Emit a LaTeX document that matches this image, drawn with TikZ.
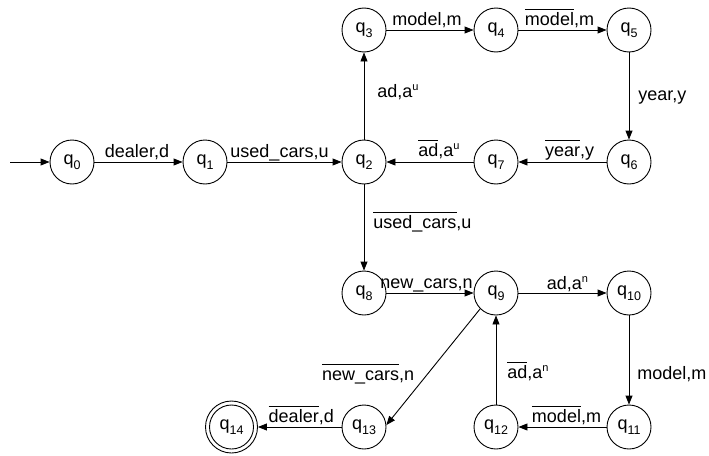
\documentclass[tikz,border=0pt]{standalone}
\usepackage{fontspec}
\setmainfont{Liberation Sans}
\usetikzlibrary{arrows.meta}

% text helpers
\newcommand\lfont{\fontsize{18}{21}\selectfont}
\newcommand\qn[1]{q\raisebox{-5.5pt}{\fontsize{12.5}{12.5}\selectfont #1}}
\newcommand\ssup[1]{\raisebox{7pt}{\fontsize{11}{11}\selectfont #1}}
\newcommand\ovl[1]{\vbox{\hrule height 0.9pt\kern 2.5pt\hbox{\vrule height 13pt depth 0pt width 0pt#1}}}

\begin{document}
\begin{tikzpicture}[x=1pt, y=-1pt,
  st/.style={circle, draw, line width=0.9pt, minimum size=44pt, inner sep=0pt, font=\lfont},
  tr/.style={-{Triangle[length=9pt,width=7pt]}, line width=0.9pt},
  lb/.style={font=\lfont, inner sep=0pt}]
\useasboundingbox (0,0) rectangle (709,455);

% states
\node[st] (q0)  at (72,162)  {\qn{0}};
\node[st] (q1)  at (205,162) {\qn{1}};
\node[st] (q2)  at (364,162) {\qn{2}};
\node[st] (q3)  at (364,30)  {\qn{3}};
\node[st] (q4)  at (496,30)  {\qn{4}};
\node[st] (q5)  at (629,30)  {\qn{5}};
\node[st] (q6)  at (629,162) {\qn{6}};
\node[st] (q7)  at (496,162) {\qn{7}};
\node[st] (q8)  at (364,293) {\qn{8}};
\node[st] (q9)  at (496,293) {\qn{9}};
\node[st] (q10) at (629,293) {\qn{10}};
\node[st] (q11) at (629,427) {\qn{11}};
\node[st] (q12) at (496,427) {\qn{12}};
\node[st] (q13) at (364,427) {\qn{13}};
\node[st, minimum size=52pt] (q14) at (231.5,427) {\qn{14}};
\draw[line width=0.9pt] (q14.center) circle[radius=22pt];

\coordinate (start) at (10,162);

% transitions
\draw[tr] (start) -- (q0);
\draw[tr] (q0) -- node[lb, anchor=base, xshift=-1.5pt, yshift=5pt] {dealer,d} (q1);
\draw[tr] (q1) -- node[lb, anchor=base, xshift=-5pt, yshift=5pt] {used\_cars,u} (q2);
\draw[tr] (q2) -- node[lb, anchor=base west, xshift=13pt, yshift=-1pt] {ad,a\ssup{u}} (q3);
\draw[tr] (q3) -- node[lb, anchor=base, xshift=-3pt, yshift=5pt] {model,m} (q4);
\draw[tr] (q4) -- node[lb, anchor=base, xshift=-3pt, yshift=5pt] {\ovl{model},m} (q5);
\draw[tr] (q5) -- node[lb, anchor=base west, xshift=9pt, yshift=-4pt] {year,y} (q6);
\draw[tr] (q6) -- node[lb, anchor=base, xshift=7pt, yshift=6pt] {\ovl{year},y} (q7);
\draw[tr] (q7) -- node[lb, anchor=base, xshift=9pt, yshift=6pt] {\ovl{ad},a\ssup{u}} (q2);
\draw[tr] (q2) -- node[lb, anchor=base west, xshift=9pt, yshift=-0.5pt] {\ovl{used\_cars},u} (q8);
\draw[tr] (q8) -- node[lb, anchor=base, xshift=-3.5pt, yshift=5pt] {new\_cars,n} (q9);
\draw[tr] (q9) -- node[lb, anchor=base, xshift=5pt, yshift=4pt] {ad,a\ssup{n}} (q10);
\draw[tr] (q10) -- node[lb, anchor=base west, xshift=8pt, yshift=-19pt] {model,m} (q11);
\draw[tr] (q11) -- node[lb, anchor=base, xshift=4pt, yshift=5pt] {\ovl{model},m} (q12);
\draw[tr] (q12) -- node[lb, anchor=base west, xshift=11pt, yshift=-18.5pt] {\ovl{ad},a\ssup{n}} (q9);
\draw[tr] (q9.225) -- node[lb, pos=0.613, anchor=base east, xshift=-8pt] {\ovl{new\_cars},n} (q13.5);
\draw[tr] (q13) -- node[lb, anchor=base, xshift=1.5pt, yshift=5pt] {\ovl{dealer},d} (q14);
\end{tikzpicture}
\end{document}
